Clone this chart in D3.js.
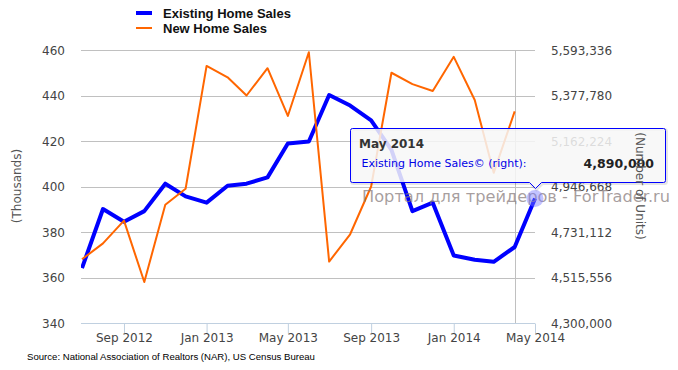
<!DOCTYPE html>
<html>
<head>
<meta charset="utf-8">
<script src="https://cdn.jsdelivr.net/npm/d3@7"></script>
<style>
  body { margin: 0; background: #fff; }
  svg { display: block; font-family: "DejaVu Sans", Verdana, sans-serif; }
</style>
</head>
<body>
<div id="chart"></div>
<script>
// monthly data, Jul 2012 .. May 2014
let months = ["2012-07", "2012-08", "2012-09", "2012-10", "2012-11", "2012-12",
              "2013-01", "2013-02", "2013-03", "2013-04", "2013-05", "2013-06",
              "2013-07", "2013-08", "2013-09", "2013-10", "2013-11", "2013-12",
              "2014-01", "2014-02", "2014-03", "2014-04", "2014-05"];
// Existing Home Sales (units, right axis)
let existingSales = [4560000, 4840000, 4780000, 4830000, 4960000, 4900000,
                     4870000, 4950000, 4960000, 4990000, 5150000, 5160000,
                     5380000, 5330000, 5260000, 5120000, 4830000, 4870000,
                     4620000, 4600000, 4590000, 4660000, 4890000];
// New Home Sales (thousands, left axis) - no May 2014 value yet
let newSales = [368, 375, 385, 358, 392, 399,
                453, 448, 440, 452, 431, 459,
                367, 379, 400, 450, 445, 442,
                457, 438, 406, 433];

let leftTicks = [340, 360, 380, 400, 420, 440, 460];
let rightTicks = [4300000, 4515556, 4731112, 4946668, 5162224, 5377780, 5593336];
let xTicks = ["2012-09", "2013-01", "2013-05", "2013-09", "2014-01", "2014-05"];

let parseMonth = d3.timeParse("%Y-%m");
let width = 678, height = 370;

let svg = d3.select("#chart").append("svg")
    .attr("width", width)
    .attr("height", height);

let x = d3.scaleTime()
    .domain([parseMonth(months[0]), parseMonth(months[months.length - 1])])
    .range([82, 535]);
let yLeft = d3.scaleLinear().domain([340, 460]).range([323, 50]);
let yRight = d3.scaleLinear().domain([4300000, 5593336]).range([323, 50]);

// gridlines
svg.append("g")
    .selectAll("line")
    .data(leftTicks)
  .enter().append("line")
    .attr("x1", 81).attr("x2", 535)
    .attr("y1", d => Math.round(yLeft(d)) + 0.5)
    .attr("y2", d => Math.round(yLeft(d)) + 0.5)
    .attr("stroke", d => d == 340 ? "none" : "#c0c0c0")
    .attr("stroke-width", 1);

// left axis labels
svg.append("g")
    .selectAll("text")
    .data(leftTicks)
  .enter().append("text")
    .attr("x", 65)
    .attr("y", d => yLeft(d) + 4.5)
    .attr("text-anchor", "end")
    .attr("font-size", 12)
    .attr("fill", "#444")
    .text(d => d);

// right axis labels
svg.append("g")
    .selectAll("text")
    .data(rightTicks)
  .enter().append("text")
    .attr("x", 551)
    .attr("y", d => yRight(d) + 4.5)
    .attr("font-size", 12)
    .attr("fill", "#444")
    .text(d => d3.format(",")(d));

// x axis
let xAxis = d3.axisBottom(x)
    .tickValues(xTicks.map(parseMonth))
    .tickSize(10)
    .tickSizeOuter(0)
    .tickFormat(d3.timeFormat("%b %Y"));

let gx = svg.append("g")
    .attr("transform", "translate(0,323.5)")
    .call(xAxis);
gx.select(".domain").attr("stroke", "#c0d0e0").attr("d", "M81,0H535");
gx.selectAll(".tick line").attr("stroke", "#c0d0e0");
gx.selectAll(".tick text")
    .attr("font-family", "DejaVu Sans, Verdana, sans-serif")
    .attr("font-size", 12)
    .attr("fill", "#444")
    .attr("dy", "0.45em");

// crosshair at last New Home Sales point
let crossX = Math.round(x(parseMonth(months[newSales.length - 1]))) + 0.5;
svg.append("line")
    .attr("x1", crossX).attr("x2", crossX)
    .attr("y1", 50).attr("y2", 323)
    .attr("stroke", "#c0c0c0");

// left axis title
svg.append("text")
    .attr("transform", "translate(21,186) rotate(-90)")
    .attr("text-anchor", "middle")
    .attr("font-size", 12)
    .attr("fill", "#555")
    .text("(Thousands)");

svg.append("clipPath").attr("id", "plotclip")
  .append("rect").attr("x", 81).attr("y", 40).attr("width", 456).attr("height", 290);

let plot = svg.append("g").attr("clip-path", "url(#plotclip)");

let newLine = d3.line()
    .x((d, i) => x(parseMonth(months[i])))
    .y(d => yLeft(d));
let existingLine = d3.line()
    .x((d, i) => x(parseMonth(months[i])))
    .y(d => yRight(d));

plot.append("path")
    .datum(existingSales)
    .attr("d", existingLine)
    .attr("fill", "none")
    .attr("stroke", "#0000ff")
    .attr("stroke-width", 4)
    .attr("stroke-linejoin", "round");

plot.append("path")
    .datum(newSales)
    .attr("d", newLine)
    .attr("fill", "none")
    .attr("stroke", "#ff6600")
    .attr("stroke-width", 2)
    .attr("stroke-linejoin", "round");

// legend
let legend = [{name: "Existing Home Sales", color: "#0000ff", w: 4},
              {name: "New Home Sales", color: "#ff6600", w: 2}];
let lg = svg.append("g").selectAll("g")
    .data(legend)
  .enter().append("g")
    .attr("transform", (d, i) => "translate(136," + (13 + i * 15) + ")");
lg.append("line")
    .attr("x1", 0).attr("x2", 16)
    .attr("stroke", d => d.color)
    .attr("stroke-width", d => d.w);
lg.append("text")
    .attr("x", 27)
    .attr("y", 4.5)
    .attr("font-family", "Liberation Sans, Arial, sans-serif")
    .attr("font-weight", "bold")
    .attr("font-size", 13)
    .attr("fill", "#111")
    .text(d => d.name);

// source
svg.append("text")
    .attr("x", 27)
    .attr("y", 360)
    .attr("font-family", "Liberation Sans, Arial, sans-serif")
    .attr("font-size", 9.6)
    .attr("fill", "#000")
    .text("Source: National Association of Realtors (NAR), US Census Bureau");

// watermark
svg.append("text")
    .attr("x", 362)
    .attr("y", 202)
    .attr("font-size", 15)
    .attr("fill", "#8a7e7e")
    .attr("fill-opacity", 0.75)
    .attr("textLength", 308)
    .attr("lengthAdjust", "spacingAndGlyphs")
    .text("Портал для трейдеров - ForTrader.ru");

// hover marker on last Existing Home Sales point
let last = existingSales.length - 1;
let hx = x(parseMonth(months[last])), hy = yRight(existingSales[last]);
svg.append("circle")
    .attr("cx", hx).attr("cy", hy)
    .attr("r", 8.5)
    .attr("fill", "#7b7bff")
    .attr("fill-opacity", 0.45);

// tooltip
let tip = svg.append("g");
let tx0 = 350.5, tx1 = 665.5, ty0 = 128.5, ty1 = 182.5, ax = Math.round(hx) + 0.5;
let tipPath = "M" + (tx0 + 2) + "," + ty0 + "H" + (tx1 - 2) + "Q" + tx1 + "," + ty0 + " " + tx1 + "," + (ty0 + 2) +
    "V" + (ty1 - 2) + "Q" + tx1 + "," + ty1 + " " + (tx1 - 2) + "," + ty1 +
    "H" + (ax + 6) + "L" + ax + "," + (ty1 + 6) + "L" + (ax - 6) + "," + ty1 +
    "H" + (tx0 + 2) + "Q" + tx0 + "," + ty1 + " " + tx0 + "," + (ty1 - 2) +
    "V" + (ty0 + 2) + "Q" + tx0 + "," + ty0 + " " + (tx0 + 2) + "," + ty0 + "Z";
tip.append("path")
    .attr("d", tipPath)
    .attr("transform", "translate(1,1)")
    .attr("fill", "none")
    .attr("stroke", "#000")
    .attr("stroke-opacity", 0.1)
    .attr("stroke-width", 3);
tip.append("path")
    .attr("d", tipPath)
    .attr("fill", "#f7f7f7")
    .attr("fill-opacity", 0.85)
    .attr("stroke", "#0000ff")
    .attr("stroke-width", 1);
tip.append("text")
    .attr("x", 359)
    .attr("y", 147.5)
    .attr("font-size", 12)
    .attr("font-weight", "bold")
    .attr("fill", "#333")
    .text(d3.timeFormat("%b %Y")(parseMonth(months[last])));
tip.append("text")
    .attr("x", 361.5)
    .attr("y", 167)
    .attr("font-size", 11)
    .attr("fill", "#0000e6")
    .text("Existing Home Sales\u00a9 (right):");
tip.append("text")
    .attr("x", 654)
    .attr("y", 167.5)
    .attr("text-anchor", "end")
    .attr("font-size", 12.5)
    .attr("font-weight", "bold")
    .attr("fill", "#222")
    .text(d3.format(",")(existingSales[last]));

// right axis title sits on top of the tooltip, as in the original
svg.append("text")
    .attr("transform", "translate(636,186) rotate(90)")
    .attr("text-anchor", "middle")
    .attr("font-size", 12)
    .attr("fill", "#555")
    .text("(Number of Units)");
</script>
</body>
</html>
